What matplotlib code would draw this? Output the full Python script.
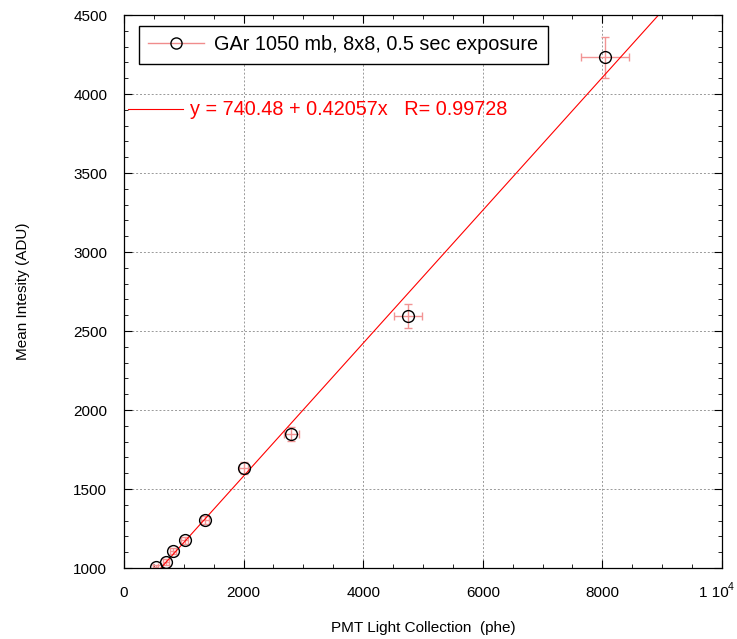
import matplotlib
matplotlib.use("Agg")
import matplotlib.pyplot as plt
import numpy as np
from matplotlib.ticker import MultipleLocator, FixedLocator
from matplotlib.transforms import blended_transform_factory, offset_copy

plt.rcParams['font.family'] = ['Liberation Sans', 'DejaVu Sans']

# Data
pmt_phe = [530, 700, 817, 1017, 1350, 2000, 2800, 4750, 8050]
mean_adu = [1005, 1038, 1108, 1177, 1304, 1633, 1848, 2595, 4234]
x_err = [40, 45, 50, 60, 70, 80, 130, 240, 400]
y_err = [15, 18, 20, 22, 28, 40, 44, 79, 130]
fit_a = 740.48
fit_b = 0.42057
legend_label = "GAr 1050 mb, 8x8, 0.5 sec exposure"
fit_label = "y = 740.48 + 0.42057x   R= 0.99728"
x_ticks = [0, 2000, 4000, 6000, 8000, 10000]
x_ticklabels = ["0", "2000", "4000", "6000", "8000", ""]
last_tick_main = "1 10"
last_tick_exp = "4"
y_ticks = [1000, 1500, 2000, 2500, 3000, 3500, 4000, 4500]

fig = plt.figure(figsize=(7.37, 6.39), dpi=100)
ax = fig.add_axes([0.1682, 0.1111, 0.8114, 0.8654])

ax.errorbar(pmt_phe, mean_adu, xerr=x_err, yerr=y_err, fmt='none',
            ecolor='#f29494', elinewidth=1.0, capsize=3, capthick=1.0, zorder=2)
ax.plot(pmt_phe, mean_adu, 'o', mfc='none', mec='black', ms=8.5, mew=1.0, zorder=3)

xf = np.linspace(0, 10000, 200)
ax.plot(xf, fit_a + fit_b * xf, color='red', lw=0.8, zorder=2)

ax.set_xlim(0, 10000)
ax.set_ylim(1000, 4500)
ax.xaxis.set_major_locator(FixedLocator(x_ticks))
ax.set_xticklabels(x_ticklabels)
ax.yaxis.set_major_locator(FixedLocator(y_ticks))
ax.xaxis.set_minor_locator(MultipleLocator(500))
ax.yaxis.set_minor_locator(MultipleLocator(100))
ax.tick_params(which='both', direction='in', top=True, right=True, labelsize=11)
ax.tick_params(which='major', length=6)
ax.tick_params(axis='x', which='major', pad=13)
ax.tick_params(axis='y', which='major', pad=12)
ax.tick_params(which='minor', length=3)
ax.grid(True, which='major', color='#999999', linestyle=(0, (2, 2)), lw=0.7)

for s in ax.spines.values():
    s.set_linewidth(0.9)

# Last x tick label "1 10^4"
tr = blended_transform_factory(ax.transData, ax.transAxes)
ax.text(10000, 0, last_tick_main, transform=offset_copy(tr, fig=fig, x=-8, y=-18, units='dots'),
        ha='center', va='top', fontsize=11)
ax.text(10000, 0, last_tick_exp, transform=offset_copy(tr, fig=fig, x=9, y=-14, units='dots'),
        ha='center', va='top', fontsize=7.5)

ax.set_xlabel("PMT Light Collection  (phe)", fontsize=11, labelpad=15)
ax.set_ylabel("Mean Intesity (ADU)", fontsize=11, labelpad=31)

# Legend box
leg_handle, = ax.plot([], [], '-o', color='#f08c8c', lw=1.0, mfc='none', mec='black', ms=8)
leg = ax.legend([leg_handle], [legend_label], loc='upper left',
                bbox_to_anchor=(0.025, 0.981), fontsize=14.3, fancybox=False,
                framealpha=1, edgecolor='black', handlelength=2.8,
                borderpad=0.48, handletextpad=0.5, borderaxespad=0)
leg.get_frame().set_linewidth(1.0)

# Fit label (no frame)
ax.plot([0.007, 0.099], [0.830, 0.830], transform=ax.transAxes, color='red', lw=0.8)
ax.text(0.110, 0.830, fit_label, transform=ax.transAxes, color='red',
        fontsize=14.3, va='center', ha='left')

fig.savefig("out.png", dpi=100)
